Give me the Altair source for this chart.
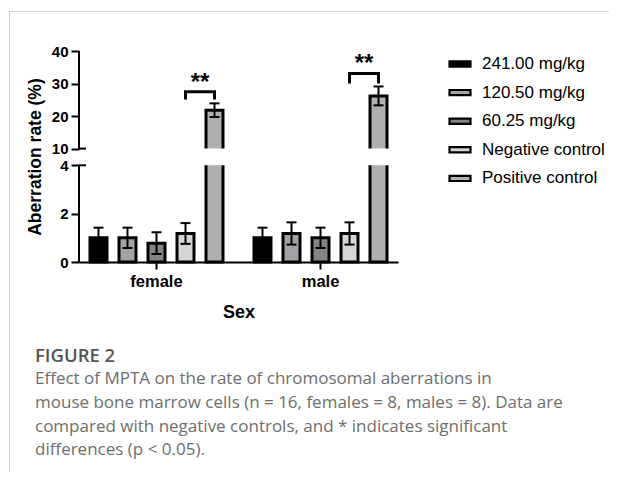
import altair as alt
import pandas as pd

# ---- data ----
sex = ["female", "male"]
groups = ["241.00 mg/kg", "120.50 mg/kg", "60.25 mg/kg", "Negative control", "Positive control"]
colors = ["#000000", "#a4a2a7", "#848484", "#d5d5d5", "#b0b0b0"]

female_mean = [1.0, 1.0, 0.78, 1.18, 21.8]
female_err = [0.42, 0.42, 0.45, 0.43, 2.1]
male_mean = [1.0, 1.18, 1.0, 1.18, 26.2]
male_err = [0.42, 0.46, 0.42, 0.46, 2.9]

# significance brackets (Negative control vs Positive control)
bracket_top = [27.5, 33.1]
bracket_leg = [25.1, 30.0]
sig_label = ["**", "**"]

# broken y axis
y_ticks = [0, 2, 4, 10, 20, 30, 40]
break_low = 4
break_high = 10
y_max = 40

caption_title = "FIGURE 2"
caption_lines = [
    "Effect of MPTA on the rate of chromosomal aberrations in",
    "mouse bone marrow cells (n = 16, females = 8, males = 8). Data are",
    "compared with negative controls, and * indicates significant",
    "differences (p < 0.05).",
]

# ---- tables ----
rows = []
for s, means, errs in [("female", female_mean, female_err), ("male", male_mean, male_err)]:
    for g, m, e in zip(groups, means, errs):
        rows.append({"Sex": s, "group": g, "mean": m, "err": e})
df = pd.DataFrame(rows)

br_rows = []
for s, top, leg in zip(sex, bracket_top, bracket_leg):
    br_rows += [
        {"Sex": s, "group": groups[3], "y": leg, "ord": 0},
        {"Sex": s, "group": groups[3], "y": top, "ord": 1},
        {"Sex": s, "group": groups[4], "y": top, "ord": 2},
        {"Sex": s, "group": groups[4], "y": leg, "ord": 3},
    ]
br_df = pd.DataFrame(br_rows)
star_df = pd.DataFrame({"Sex": sex, "group": [groups[3]] * 2, "y": bracket_top, "t": sig_label})

seg_df = pd.DataFrame({"lo": [0, break_high], "hi": [break_low, y_max]})
gap_df = pd.DataFrame({"lo": [break_low], "hi": [break_high]})
cap_df = pd.DataFrame({"v": [break_low, break_high]})

# ---- scales / encodings ----
W, H = 319, 211
FONT = "Liberation Sans"

x_scale = alt.Scale(domain=sex, paddingInner=0.189, paddingOuter=0.067)
xo_scale = alt.Scale(domain=groups, paddingInner=0.414, paddingOuter=0)
y_scale = alt.Scale(domain=[0, break_low, break_high, y_max], range=[H, 114.3, 97.6, 0])

x_axis = alt.Axis(title="Sex", labelAngle=0, domainWidth=2, tickWidth=2, tickSize=7,
                  labelFontSize=16.5, labelFontWeight="bold", labelPadding=4,
                  titleFontSize=18, titleFontWeight="bold", titlePadding=14, grid=False)
y_axis = alt.Axis(title="Aberration rate (%)", values=y_ticks, domain=False, tickWidth=2,
                  tickSize=8, labelFontSize=15, labelFontWeight="bold", labelPadding=3,
                  titleFontSize=17.5, titleFontWeight="bold", titlePadding=7, grid=False,
                  zindex=1)

X = alt.X("Sex:N", scale=x_scale, axis=x_axis)
XO = alt.XOffset("group:N", scale=xo_scale)

bars = alt.Chart(df).mark_bar(stroke="black", strokeWidth=3, opacity=1).encode(
    x=X, xOffset=XO,
    y=alt.Y("mean:Q", scale=y_scale, axis=y_axis),
    fill=alt.Fill("group:N", scale=alt.Scale(domain=groups, range=colors),
                  legend=alt.Legend(title=None, orient="none", legendX=369, legendY=1,
                                    symbolType="M-1,-0.25H1V0.25H-1Z", symbolSize=440,
                                    symbolStrokeColor="black", symbolStrokeWidth=2.2,
                                    symbolOpacity=1, labelFont=FONT, labelFontSize=17,
                                    labelColor="black", labelOffset=10, rowPadding=8.6,
                                    labelLimit=300)),
)

err = alt.Chart(df).transform_calculate(
    lo="datum.mean - datum.err", hi="datum.mean + datum.err"
)
err_rule = err.mark_rule(color="black", strokeWidth=2).encode(
    x=X, xOffset=XO,
    y=alt.Y("lo:Q", scale=y_scale, axis=y_axis), y2="hi:Q",
)
err_cap = err.transform_fold(["lo", "hi"], as_=["k", "v"]).mark_tick(
    color="black", size=10, thickness=2, orient="horizontal", opacity=1
).encode(
    x=X, xOffset=XO,
    y=alt.Y("v:Q", scale=y_scale, axis=y_axis),
)

gap = alt.Chart(gap_df).mark_rect(color="white", opacity=1).encode(
    x=alt.value(0), x2=alt.value(W),
    y=alt.Y("lo:Q", scale=y_scale, axis=y_axis), y2="hi:Q",
)
axis_line = alt.Chart(seg_df).mark_rule(color="black", strokeWidth=2).encode(
    x=alt.value(0),
    y=alt.Y("lo:Q", scale=y_scale, axis=y_axis), y2="hi:Q",
)
break_caps = alt.Chart(cap_df).mark_rule(color="black", strokeWidth=2).encode(
    x=alt.value(0), x2=alt.value(7),
    y=alt.Y("v:Q", scale=y_scale, axis=y_axis),
)

brackets = alt.Chart(br_df).mark_line(color="black", strokeWidth=3, strokeCap="butt",
                                      strokeJoin="miter").encode(
    x=X, xOffset=XO,
    y=alt.Y("y:Q", scale=y_scale, axis=y_axis),
    order="ord:Q", detail="Sex:N",
)
stars = alt.Chart(star_df).mark_text(font=FONT, fontSize=24, fontWeight="bold", color="black",
                                     dx=14.5, dy=-2, baseline="alphabetic", align="center").encode(
    x=X, xOffset=XO,
    y=alt.Y("y:Q", scale=y_scale, axis=y_axis),
    text="t:N",
)

frame_top = alt.Chart(gap_df).mark_rule(color="#cfcfcf", strokeWidth=1).encode(
    x=alt.value(-69.5), x2=alt.value(538), y=alt.value(-39.5)
)
frame_left = alt.Chart(gap_df).mark_rule(color="#cfcfcf", strokeWidth=1).encode(
    x=alt.value(-69.5), y=alt.value(-39.5), y2=alt.value(421)
)

chart = alt.layer(
    frame_top, frame_left, bars, err_rule, err_cap, gap, axis_line, break_caps, brackets, stars
).properties(
    width=W, height=H,
    autosize=alt.AutoSizeParams(type="none"),
    padding={"left": 71, "top": 43, "right": 211, "bottom": 210},
    title=alt.TitleParams(
        text=caption_title, subtitle=caption_lines, orient="bottom", anchor="start",
        frame="group", dx=-44, offset=-126, font="Open Sans", fontSize=18.5, fontWeight=600,
        color="#555555", subtitleFont="Open Sans", subtitleFontSize=17,
        subtitleColor="#6e6e6e", subtitleLineHeight=23.8, subtitlePadding=6,
    ),
).configure(
    background="white",
).configure_view(stroke=None).configure_axis(
    domainColor="black", tickColor="black", labelColor="black", titleColor="black",
    labelFont=FONT, titleFont=FONT,
)

chart.save("out.html", embed_options={"renderer": "svg", "actions": False})
